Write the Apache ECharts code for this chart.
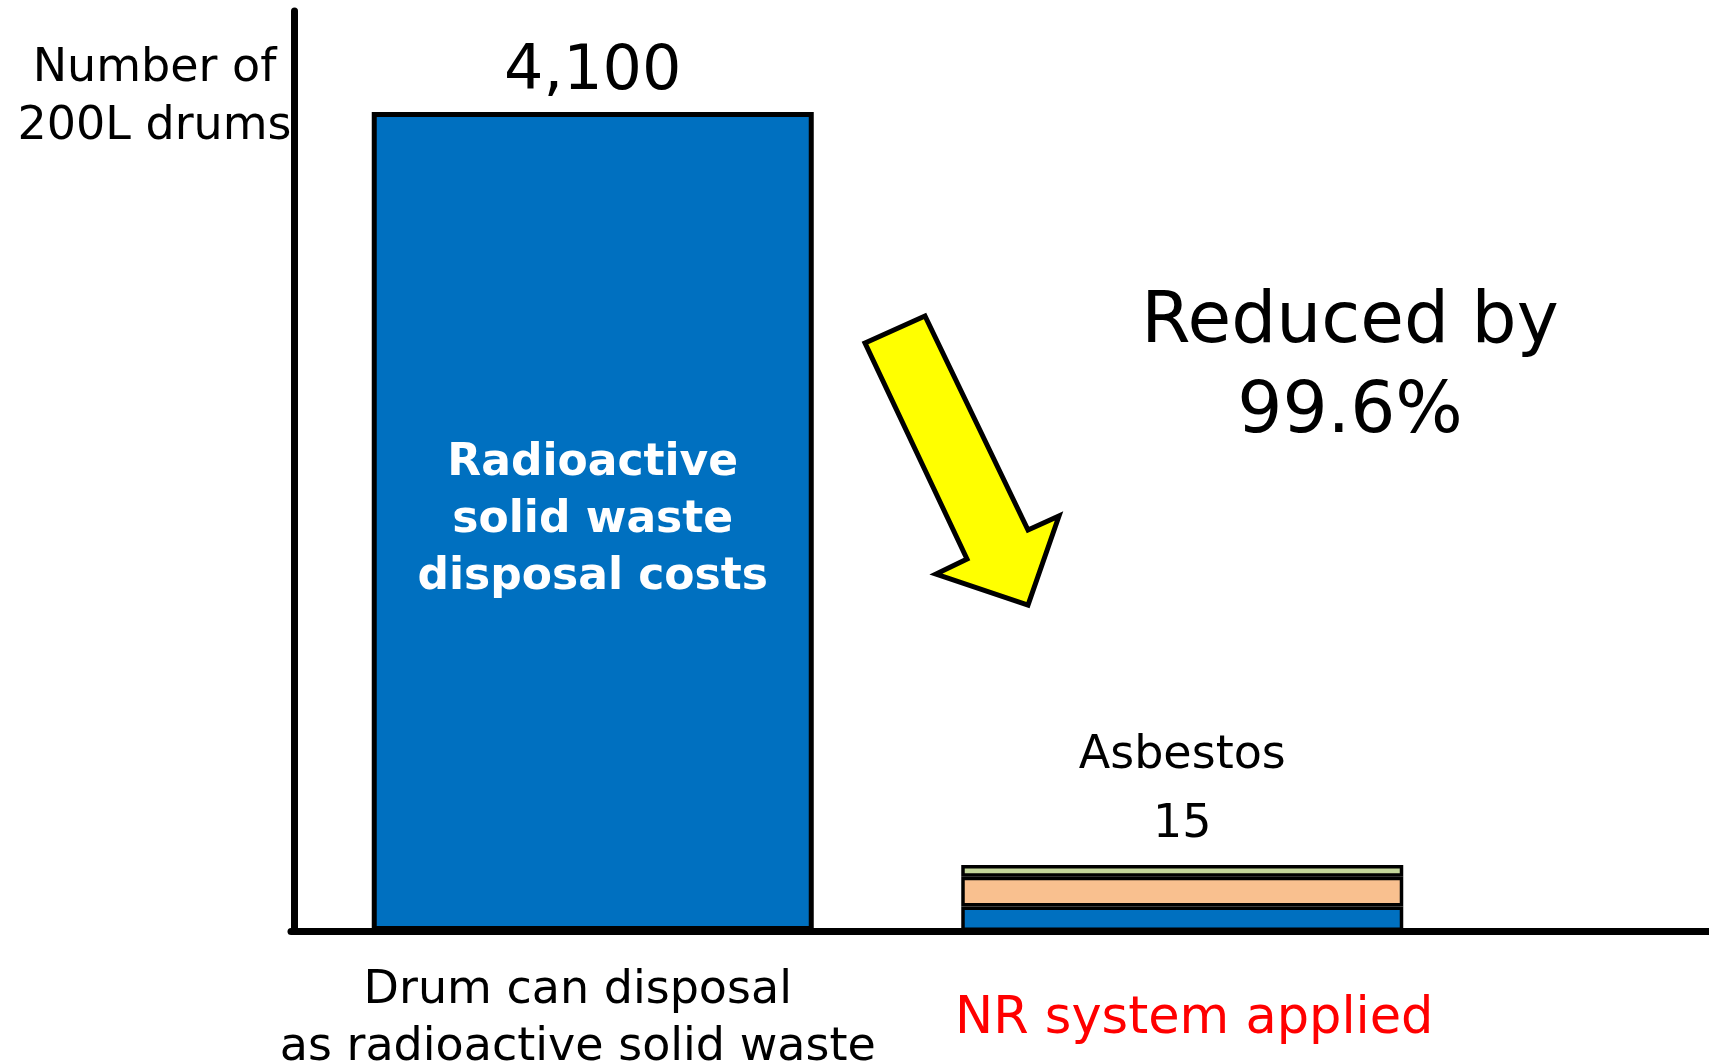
<!DOCTYPE html>
<html>
<head>
<meta charset="utf-8">
<script src="https://cdn.jsdelivr.net/npm/echarts@6/dist/echarts.min.js"></script>
<style>
  html, body { margin: 0; padding: 0; background: #fff; }
  #main { width: 1709px; height: 1064px; }
</style>
</head>
<body>
<div id="main"></div>
<script>
// categories on the x axis
var categories = ['Drum can disposal\nas radioactive solid waste', 'NR system applied'];
// bar heights as drawn in the picture (second bar is not to scale)
var wasteValues = [4100, 123];
var middleValues = ['-', 148];
var asbestosValues = ['-', 60];
// texts written over the bars
var topLabels = ['4,100', 'Asbestos\n15'];
var insideLabel = 'Radioactive\nsolid waste\ndisposal costs';
var axisName = 'Number of\n200L drums';
var noteText = 'Reduced by\n99.6%';

var FONT = 'DejaVu Sans';
var chart = echarts.init(document.getElementById('main'));

var option = {
  backgroundColor: '#fff',
  animation: false,
  grid: [
    { left: 298, right: 232, top: 11, bottom: 133, outerBoundsMode: 'none' },
    { left: 291, right: 0, top: 11, bottom: 133, outerBoundsMode: 'none' }
  ],
  xAxis: [
    {
      type: 'category',
      gridIndex: 0,
      data: categories,
      axisLine: { show: false },
      axisTick: { show: false },
      axisLabel: {
        margin: 89,
        verticalAlign: 'middle',
        fontFamily: FONT,
        formatter: function (v, i) {
          if (i === 1) return '{r|' + v + '}';
          return '{b|' + v.split('\n').join('}\n{b|') + '}';
        },
        rich: {
          b: { fontFamily: FONT, fontSize: 46, color: '#000', lineHeight: 57, padding: [0, 30, 0, 0] },
          r: { fontFamily: FONT, fontSize: 51, color: '#ff0000', lineHeight: 57, padding: [0, 0, 0, 24] }
        }
      }
    },
    {
      type: 'value',
      gridIndex: 1,
      min: 0,
      max: 1,
      axisLine: { show: true, lineStyle: { color: '#000', width: 7 } },
      axisTick: { show: false },
      axisLabel: { show: false },
      splitLine: { show: false }
    }
  ],
  yAxis: [
    {
      type: 'value',
      gridIndex: 0,
      min: 0,
      max: 4606,
      offset: 3.5,
      name: axisName,
      nameLocation: 'end',
      nameGap: -87,
      nameTextStyle: {
        fontFamily: FONT,
        fontSize: 46,
        color: '#000',
        lineHeight: 58,
        align: 'center',
        verticalAlign: 'middle',
        padding: [0, 280, 0, 0]
      },
      axisLine: { show: true, lineStyle: { color: '#000', width: 7 } },
      axisTick: { show: false },
      axisLabel: { show: false },
      splitLine: { show: false }
    },
    {
      type: 'value',
      gridIndex: 1,
      min: 0,
      max: 1,
      show: false
    }
  ],
  series: [
    {
      type: 'bar',
      stack: 'total',
      barWidth: 442,
      data: [
        {
          value: wasteValues[0],
          itemStyle: { color: '#0070c0', borderColor: '#000', borderWidth: 5 },
          label: {
            show: true,
            position: 'inside',
            offset: [0, -1],
            formatter: insideLabel,
            fontFamily: FONT,
            fontWeight: 'bold',
            fontSize: 44,
            lineHeight: 57,
            color: '#fff'
          }
        },
        {
          value: wasteValues[1],
          itemStyle: { color: '#0070c0', borderColor: '#000', borderWidth: 3.5 }
        }
      ],
      z: 2
    },
    {
      type: 'bar',
      stack: 'total',
      barWidth: 442,
      itemStyle: { color: '#f9c08f', borderColor: '#000', borderWidth: 3.5 },
      data: middleValues,
      z: 2
    },
    {
      type: 'bar',
      stack: 'total',
      barWidth: 442,
      itemStyle: { color: '#c4d79b', borderColor: '#000', borderWidth: 3.5 },
      data: asbestosValues,
      label: {
        show: true,
        position: 'top',
        distance: 5,
        formatter: function (p) { return topLabels[p.dataIndex]; },
        fontFamily: FONT,
        fontSize: 46,
        lineHeight: 69,
        color: '#000'
      },
      z: 2
    },
    {
      // label for the first bar total
      type: 'bar',
      stack: 'total',
      barWidth: 442,
      data: [0, '-'],
      itemStyle: { color: 'transparent', borderWidth: 0 },
      label: {
        show: true,
        position: 'top',
        distance: 8,
        formatter: function (p) { return topLabels[p.dataIndex]; },
        fontFamily: FONT,
        fontSize: 62,
        lineHeight: 62,
        color: '#000'
      },
      z: 2
    }
  ],
  graphic: [
    {
      type: 'polygon',
      shape: {
        points: [[865, 343], [925, 316], [1028, 530], [1059, 516], [1028, 605], [936, 574], [967, 559]]
      },
      style: { fill: '#ffff00', stroke: '#000', lineWidth: 5, lineJoin: 'miter' },
      z: 10
    },
    {
      type: 'text',
      x: 1350,
      y: 369,
      style: {
        text: noteText,
        fontFamily: FONT,
        fontSize: 71,
        lineHeight: 90,
        fill: '#000',
        align: 'center',
        verticalAlign: 'middle'
      },
      z: 10
    }
  ]
};

chart.setOption(option);
</script>
</body>
</html>
